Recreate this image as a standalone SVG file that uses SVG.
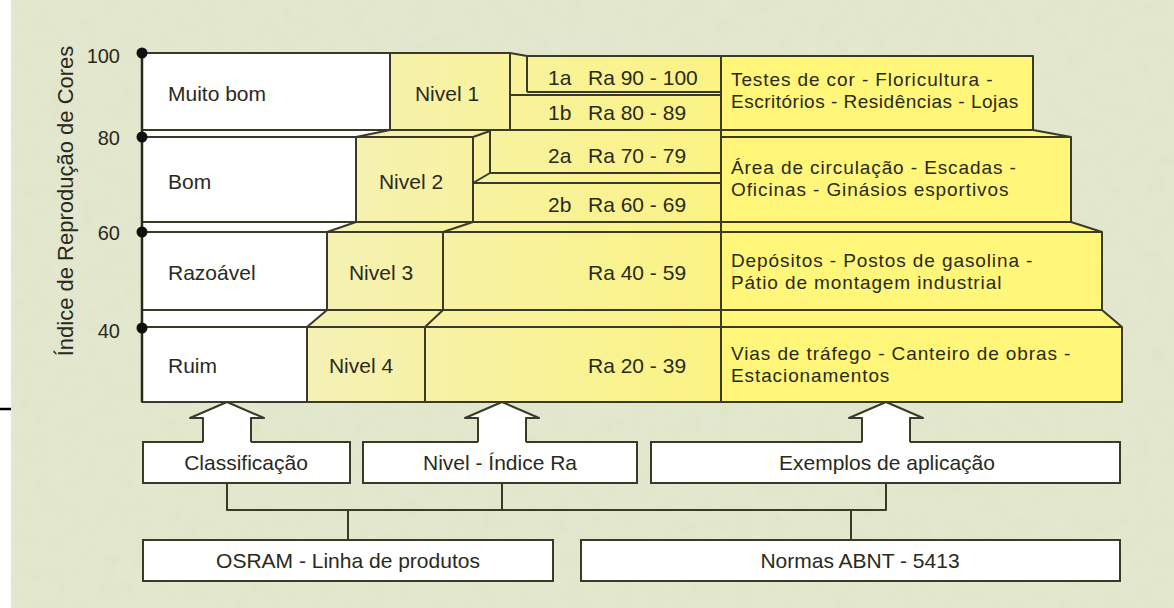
<svg xmlns="http://www.w3.org/2000/svg" width="1174" height="608" viewBox="0 0 1174 608">
  <defs>
    <linearGradient id="ymid" gradientUnits="userSpaceOnUse" x1="300" y1="0" x2="721" y2="0">
      <stop offset="0" stop-color="#f5f1b6"/>
      <stop offset="1" stop-color="#fbf383"/>
    </linearGradient>
    <filter id="grain" x="0" y="0" width="100%" height="100%">
      <feTurbulence type="fractalNoise" baseFrequency="0.06" numOctaves="2" seed="3" result="n"/>
      <feColorMatrix in="n" type="matrix" values="0 0 0 0 0.80  0 0 0 0 0.84  0 0 0 0 0.70  0 0 0 0.5 0" result="c"/>
      <feComposite in="c" in2="SourceGraphic" operator="in"/>
    </filter>
    <style>
      .ln { fill: none; stroke: #3a3a28; stroke-width: 2; stroke-linejoin: round; }
      .wh { fill: #ffffff; }
      .ym { fill: url(#ymid); }
      .yr { fill: #fff67a; }
      .t { font-family: "Liberation Sans", Arial, sans-serif; font-size: 21px; fill: #2a2a1c; }
      .ex { font-size: 19px; letter-spacing: 0.9px; }
      .num { font-family: "Liberation Sans", Arial, sans-serif; font-size: 20px; fill: #2a2a1c; text-anchor: end; }
      .mid { text-anchor: middle; }
      .box { fill: #ffffff; stroke: #3a3a28; stroke-width: 2; }
      .dot { fill: #111111; }
    </style>
  </defs>

  <rect x="0" y="0" width="1174" height="608" fill="#e0e5c9"/>
  <rect x="0" y="0" width="1174" height="608" fill="#e0e5c9" filter="url(#grain)"/>
  <rect x="0" y="0" width="11" height="608" fill="#ffffff"/>
  <line x1="0" y1="409" x2="11" y2="409" stroke="#000000" stroke-width="2.5"/>

  <g id="axis">
    <text class="t" style="font-size:22px" text-anchor="middle" transform="translate(73,201) rotate(-90)">Índice de Reprodução de Cores</text>
    <text class="num" x="120" y="63">100</text>
    <text class="num" x="120" y="145">80</text>
    <text class="num" x="120" y="240">60</text>
    <text class="num" x="120" y="338">40</text>
  </g>

  <g id="row-ruim">
    <polygon class="wh" points="142,310 327,310 307,327 307,402 142,402"/>
    <polygon class="ym" points="327,310 721,310 721,402 307,402 307,327"/>
    <polygon class="yr" points="721,310 1102,310 1122,327 1122,402 721,402"/>
  </g>
  <g id="row-razoavel">
    <polygon class="wh" points="142,222 356,222 327,232 327,310 142,310"/>
    <polygon class="ym" points="356,222 721,222 721,310 327,310 327,232"/>
    <polygon class="yr" points="721,222 1071,222 1102,232 1102,310 721,310"/>
  </g>
  <g id="row-bom">
    <polygon class="wh" points="142,130 390,130 356,137 356,222 142,222"/>
    <polygon class="ym" points="390,130 721,130 721,222 356,222 356,137"/>
    <polygon class="yr" points="721,130 1033,130 1071,137 1071,222 721,222"/>
  </g>
  <g id="row-muito-bom">
    <polygon class="wh" points="142,53 390,53 390,130 142,130"/>
    <polygon class="ym" points="390,53 510,53 527,56 721,56 721,130 390,130"/>
    <polygon class="yr" points="721,56 1033,56 1033,130 721,130"/>
  </g>

  <g id="chart-lines">
    <polyline class="ln" points="142,53 510,53 527,56 1033,56 1033,130 1071,137 1071,222 1102,232 1102,310 1122,327 1122,402 142,402 142,53"/>
    <line class="ln" x1="142" y1="130" x2="1033" y2="130"/>
    <polyline class="ln" points="142,137 473,137 490,131"/>
    <line class="ln" x1="721" y1="137" x2="1071" y2="137"/>
    <line class="ln" x1="356" y1="137" x2="390" y2="130"/>
    <line class="ln" x1="142" y1="222" x2="1071" y2="222"/>
    <line class="ln" x1="142" y1="232" x2="1102" y2="232"/>
    <line class="ln" x1="327" y1="232" x2="356" y2="222"/>
    <line class="ln" x1="443" y1="232" x2="473" y2="222"/>
    <line class="ln" x1="142" y1="310" x2="1102" y2="310"/>
    <line class="ln" x1="142" y1="327" x2="1122" y2="327"/>
    <line class="ln" x1="307" y1="327" x2="327" y2="310"/>
    <line class="ln" x1="425" y1="327" x2="443" y2="310"/>
    <line class="ln" x1="390" y1="53" x2="390" y2="130"/>
    <line class="ln" x1="510" y1="53" x2="510" y2="130"/>
    <line class="ln" x1="527" y1="56" x2="527" y2="92"/>
    <line class="ln" x1="527" y1="92" x2="721" y2="92"/>
    <line class="ln" x1="510" y1="95" x2="721" y2="95"/>
    <line class="ln" x1="356" y1="137" x2="356" y2="222"/>
    <line class="ln" x1="473" y1="137" x2="473" y2="222"/>
    <line class="ln" x1="490" y1="131" x2="490" y2="173"/>
    <line class="ln" x1="490" y1="173" x2="473" y2="183"/>
    <line class="ln" x1="490" y1="173" x2="721" y2="173"/>
    <line class="ln" x1="473" y1="183" x2="721" y2="183"/>
    <line class="ln" x1="327" y1="232" x2="327" y2="310"/>
    <line class="ln" x1="443" y1="232" x2="443" y2="310"/>
    <line class="ln" x1="307" y1="327" x2="307" y2="402"/>
    <line class="ln" x1="425" y1="327" x2="425" y2="402"/>
    <line class="ln" x1="721" y1="56" x2="721" y2="402"/>
    <line x1="142" y1="53" x2="142" y2="402" stroke="#2a2a1c" stroke-width="2.5"/>
  </g>

  <g id="axis-dots">
    <circle class="dot" cx="142" cy="53" r="5.5"/>
    <circle class="dot" cx="142" cy="137" r="5.5"/>
    <circle class="dot" cx="142" cy="232" r="5.5"/>
    <circle class="dot" cx="142" cy="328" r="5.5"/>
  </g>

  <g id="labels-classificacao">
    <text class="t" x="168" y="101">Muito bom</text>
    <text class="t" x="168" y="189">Bom</text>
    <text class="t" x="168" y="280">Razoável</text>
    <text class="t" x="168" y="373">Ruim</text>
  </g>
  <g id="labels-nivel">
    <text class="t mid" x="447" y="101">Nivel 1</text>
    <text class="t mid" x="411" y="189">Nivel 2</text>
    <text class="t mid" x="381" y="280">Nivel 3</text>
    <text class="t mid" x="361" y="373">Nivel 4</text>
    <text class="t" x="548" y="85">1a</text>
    <text class="t" x="588" y="85">Ra 90 - 100</text>
    <text class="t" x="548" y="120">1b</text>
    <text class="t" x="588" y="120">Ra 80 - 89</text>
    <text class="t" x="548" y="163">2a</text>
    <text class="t" x="588" y="163">Ra 70 - 79</text>
    <text class="t" x="548" y="212">2b</text>
    <text class="t" x="588" y="212">Ra 60 - 69</text>
    <text class="t" x="588" y="280">Ra 40 - 59</text>
    <text class="t" x="588" y="373">Ra 20 - 39</text>
  </g>
  <g id="labels-exemplos">
    <text class="t ex" x="731" y="86">Testes de cor - Floricultura -</text>
    <text class="t ex" x="731" y="108" style="letter-spacing:0.5px">Escritórios - Residências - Lojas</text>
    <text class="t ex" x="731" y="174">Área de circulação - Escadas -</text>
    <text class="t ex" x="731" y="196">Oficinas - Ginásios esportivos</text>
    <text class="t ex" x="731" y="267">Depósitos - Postos de gasolina -</text>
    <text class="t ex" x="731" y="289">Pátio de montagem industrial</text>
    <text class="t ex" x="731" y="360">Vias de tráfego - Canteiro de obras -</text>
    <text class="t ex" x="731" y="382">Estacionamentos</text>
  </g>

  <g id="connectors">
    <polyline class="ln" points="227,483 227,510 886,510 886,483"/>
    <line class="ln" x1="502" y1="483" x2="502" y2="510"/>
    <line class="ln" x1="348" y1="510" x2="348" y2="540"/>
    <line class="ln" x1="851" y1="510" x2="851" y2="540"/>
  </g>

  <g id="node-classificacao">
    <rect class="box" x="143" y="442" width="207" height="41"/>
    <polygon class="wh" points="227,402 264,418 251,418 251,444 203,444 203,418 190,418"/>
    <polyline class="ln" points="203,442 203,418 190,418 227,402 264,418 251,418 251,442"/>
    <text class="t mid" x="246" y="470">Classificação</text>
  </g>
  <g id="node-nivel">
    <rect class="box" x="363" y="442" width="274" height="41"/>
    <polygon class="wh" points="502,402 539,418 526,418 526,444 478,444 478,418 465,418"/>
    <polyline class="ln" points="478,442 478,418 465,418 502,402 539,418 526,418 526,442"/>
    <text class="t mid" x="500" y="470">Nivel - Índice Ra</text>
  </g>
  <g id="node-exemplos">
    <rect class="box" x="651" y="442" width="469" height="41"/>
    <polygon class="wh" points="886,402 923,418 910,418 910,444 862,444 862,418 849,418"/>
    <polyline class="ln" points="862,442 862,418 849,418 886,402 923,418 910,418 910,442"/>
    <text class="t mid" x="887" y="470">Exemplos de aplicação</text>
  </g>
  <g id="node-osram">
    <rect class="box" x="143" y="540" width="410" height="41"/>
    <text class="t mid" x="348" y="568">OSRAM - Linha de produtos</text>
  </g>
  <g id="node-normas">
    <rect class="box" x="581" y="540" width="539" height="41"/>
    <text class="t mid" x="860" y="568">Normas ABNT - 5413</text>
  </g>
</svg>
